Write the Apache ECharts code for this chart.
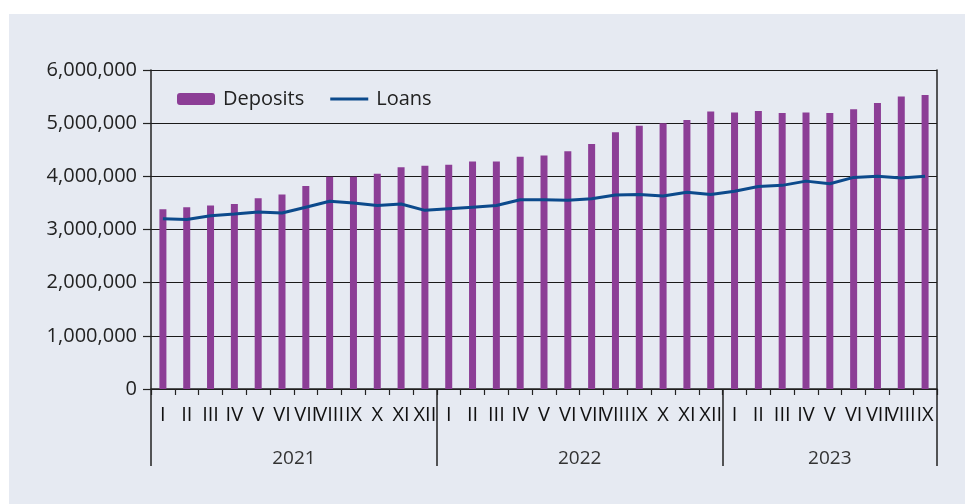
<!DOCTYPE html>
<html>
<head>
<meta charset="utf-8">
<script src="https://cdn.jsdelivr.net/npm/echarts@6/dist/echarts.min.js"></script>
<style>
html,body{margin:0;padding:0;background:#ffffff;}
#panel{position:absolute;left:9px;top:14px;width:956px;height:490px;background:#e6eaf2;}
#chart{position:absolute;left:0;top:0;width:965px;height:504px;}
</style>
</head>
<body>
<div id="panel"></div>
<div id="chart"></div>
<script>
// ---- data ----
const monthLabels = [
  'I','II','III','IV','V','VI','VII','VIII','IX','X','XI','XII',
  'I','II','III','IV','V','VI','VII','VIII','IX','X','XI','XII',
  'I','II','III','IV','V','VI','VII','VIII','IX'
];
const yearLabels = ['2021','2022','2023'];
const monthsPerYear = [12, 12, 9];
const deposits = [
  3380000,3420000,3450000,3480000,3590000,3660000,3820000,3990000,3990000,4050000,4170000,4200000,
  4220000,4280000,4280000,4370000,4390000,4470000,4610000,4830000,4950000,5000000,5060000,5220000,
  5200000,5230000,5190000,5200000,5190000,5260000,5380000,5500000,5530000
];
const loans = [
  3200000,3190000,3260000,3290000,3330000,3310000,3420000,3530000,3500000,3450000,3480000,3360000,
  3390000,3420000,3450000,3560000,3560000,3550000,3580000,3650000,3660000,3630000,3700000,3660000,
  3720000,3810000,3830000,3910000,3860000,3980000,4000000,3970000,4000000
];

// ---- year axis built on half-month slots ----
const totalMonths = monthsPerYear.reduce((a,b)=>a+b,0);
const halfSlots = totalMonths*2 + 1;
const yearAxisData = new Array(halfSlots).fill('');
const boundaryIdx = [0];
const labelIdx = [];
let acc = 0;
monthsPerYear.forEach((m,i)=>{
  labelIdx.push(acc*2 + m);
  yearAxisData[acc*2 + m] = yearLabels[i];
  acc += m;
  boundaryIdx.push(acc*2);
});

const FONT = "'Open Sans','Noto Sans',sans-serif";
const TXT = '#222222';

const chart = echarts.init(document.getElementById('chart'), null, {renderer:'canvas'});
chart.setOption({
  backgroundColor: 'transparent',
  animation: false,
  textStyle: {fontFamily: FONT},
  legend: {
    left: 172, top: 84,
    itemWidth: 38, itemHeight: 12, itemGap: 26,
    textStyle: {fontSize: 20, color: TXT, fontFamily: FONT, padding: [0,0,0,3]},
    data: [
      {name: 'Deposits'},
      {name: 'Loans', icon: 'path://M0,0L0,0M0,4.5L40,4.5L40,7.5L0,7.5ZM40,12L40,12'}
    ]
  },
  grid: {left: 151, right: 28, top: 70, bottom: 115, containLabel: false},
  xAxis: [
    {
      type: 'category', data: monthLabels, boundaryGap: true,
      axisLine: {show: true, lineStyle: {color: '#222', width: 1.5}},
      axisTick: {show: true, interval: 0, length: 6, lineStyle: {color: '#222', width: 1.2}},
      axisLabel: {interval: 0, margin: 16, fontSize: 20, color: '#111', fontFamily: FONT},
      splitLine: {show: false}
    },
    {
      type: 'category', data: yearAxisData, boundaryGap: false, position: 'bottom',
      axisLine: {show: false},
      axisTick: {show: true, length: 77, interval: (i)=>boundaryIdx.indexOf(i) >= 0,
                 lineStyle: {color: '#222', width: 1.5}},
      axisLabel: {interval: (i)=>labelIdx.indexOf(i) >= 0, margin: 60, fontSize: 19,
                  color: '#333', fontFamily: FONT},
      splitLine: {show: false}
    }
  ],
  yAxis: [
    {
      type: 'value', min: 0, max: 6000000, interval: 1000000,
      axisLine: {show: true, lineStyle: {color: '#222', width: 1.5}},
      axisTick: {show: true, length: 8, lineStyle: {color: '#222', width: 1.2}},
      axisLabel: {margin: 14, fontSize: 20, color: TXT, fontFamily: FONT,
                  formatter: (v)=>v.toLocaleString('en-US')},
      splitLine: {show: true, lineStyle: {color: '#1a1a1a', width: 1.2}}
    },
    {
      type: 'value', min: 0, max: 6000000, interval: 1000000, position: 'right',
      axisLine: {show: true, lineStyle: {color: '#222', width: 1.5}},
      axisTick: {show: false}, axisLabel: {show: false}, splitLine: {show: false}
    }
  ],
  series: [
    {
      name: 'Deposits', type: 'bar', data: deposits, barWidth: 7,
      xAxisIndex: 0, yAxisIndex: 0,
      itemStyle: {color: '#8c3e96'}
    },
    {
      name: 'Loans', type: 'line', data: loans, symbol: 'none',
      xAxisIndex: 0, yAxisIndex: 0,
      lineStyle: {color: '#0c4a8c', width: 3},
      itemStyle: {color: '#0c4a8c'}
    }
  ]
});
</script>
</body>
</html>
